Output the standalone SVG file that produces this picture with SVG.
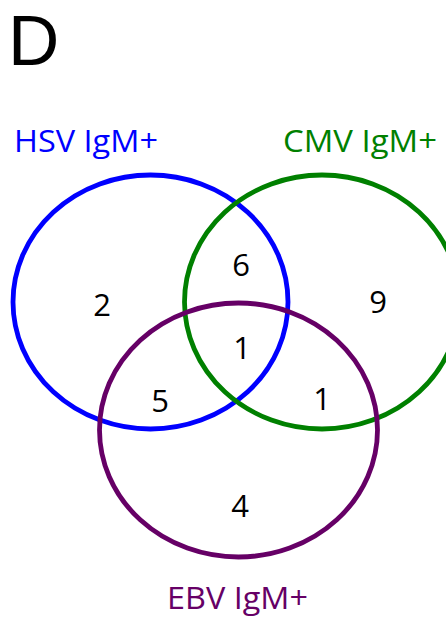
<svg xmlns="http://www.w3.org/2000/svg" width="446" height="618" viewBox="0 0 446 618">
<style>
text{font-family:"Open Sans","Noto Sans","Liberation Sans",sans-serif}
.set{fill:none;stroke-width:4.8}
.num{font-size:31px;fill:#000;text-anchor:middle}
.lbl{font-size:31px}
</style>
<rect width="446" height="618" fill="#fff"/>
<text x="8" y="65" font-size="71" fill="#000" style="font-family:'Liberation Sans',Arial,sans-serif">D</text>
<g id="hsv">
<ellipse class="set" cx="150.5" cy="302" rx="137.5" ry="127" stroke="#0000ff"/>
<text class="lbl" x="14" y="152" fill="#0000ff" textLength="144" lengthAdjust="spacingAndGlyphs">HSV IgM+</text>
</g>
<g id="cmv">
<ellipse class="set" cx="322" cy="302" rx="137.5" ry="127" stroke="#008000"/>
<text class="lbl" x="283" y="152" fill="#008000" textLength="154" lengthAdjust="spacingAndGlyphs">CMV IgM+</text>
</g>
<g id="ebv">
<ellipse class="set" cx="238.5" cy="430" rx="139" ry="127" stroke="#660066"/>
<text class="lbl" x="167" y="609" fill="#660066" textLength="141" lengthAdjust="spacingAndGlyphs">EBV IgM+</text>
</g>
<g id="counts">
<text class="num" x="102" y="316">2</text>
<text class="num" x="241" y="276">6</text>
<text class="num" x="378" y="313">9</text>
<text class="num" x="242" y="359">1</text>
<text class="num" x="160" y="412">5</text>
<text class="num" x="322" y="410">1</text>
<text class="num" x="240" y="517">4</text>
</g>
<g id="connectors"></g>
</svg>
